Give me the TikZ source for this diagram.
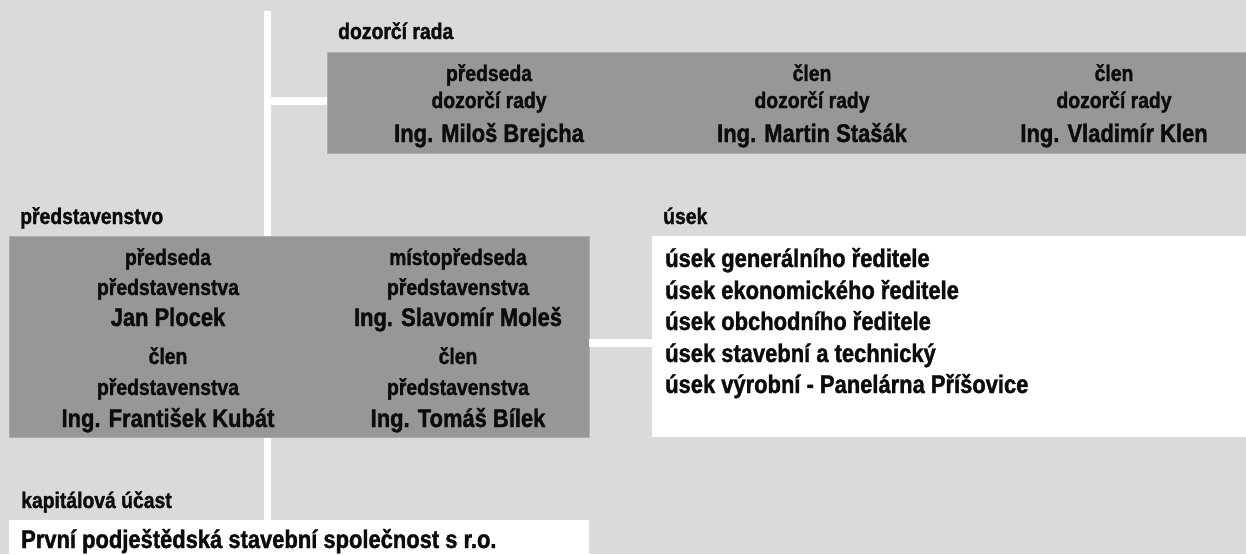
\documentclass[tikz,border=0pt]{standalone}
\usepackage{fontspec}
\setmainfont{Liberation Sans}[FakeStretch=0.86, BoldFeatures={FakeBold=1.4}]
\definecolor{bgc}{RGB}{218,218,218}
\definecolor{boxc}{RGB}{150,151,150}
\definecolor{boxedge}{RGB}{172,173,172}
\definecolor{txt}{RGB}{12,12,12}
\tikzset{
  graybox/.style={fill=boxc, draw=boxedge, line width=1pt, inner sep=0pt, outer sep=0pt, anchor=north west},
  whitebox/.style={fill=white, draw=none, inner sep=0pt, outer sep=0pt, anchor=north west},
  conn/.style={draw=white, line width=7.5pt},
  lbl/.style={anchor=base west, inner sep=0pt, text=txt, font=\fontsize{22.5}{26}\selectfont\bfseries},
  small/.style={anchor=base, inner sep=0pt, text=txt, font=\fontsize{22.5}{26}\selectfont\bfseries},
  big/.style={anchor=base, inner sep=0pt, text=txt, font=\fontsize{25.5}{30}\selectfont\bfseries},
  bigl/.style={anchor=base west, inner sep=0pt, text=txt, font=\fontsize{25.5}{30}\selectfont\bfseries},
}
\begin{document}
\begin{tikzpicture}[x=1pt, y=-1pt]
\fill[bgc] (0,0) rectangle (1246,554);
\useasboundingbox (0,0) rectangle (1246,554);
% connectors
\coordinate (top) at (267.5,11);
\coordinate (j1) at (267.5,101);
\coordinate (j2) at (620,343);
\node[whitebox, minimum width=580pt, minimum height=40pt] (kap) at (9,520) {};
\node[whitebox, minimum width=594pt, minimum height=201pt] (usek) at (652,236) {};
\draw[conn] (top) -- (top |- kap.north);
% boxes
\node[graybox, minimum width=925pt, minimum height=101pt] (dr) at (327,52) {};
\node[graybox, minimum width=580pt, minimum height=201pt] (psv) at (9,236) {};
\draw[conn] (j1) -- (j1 -| dr.west);
\draw[conn] (j2 -| psv.east) -- (j2 -| usek.west);
% labels
\node[lbl] (l1) at (338,39) {dozorčí rada};
\node[lbl] (l2) at (20,224) {představenstvo};
\node[lbl] (l3) at (663,224) {úsek};
\node[lbl] (l4) at (21,508) {kapitálová účast};
% dozorci rada
\node[small] (a1) at (489,81) {předseda};
\node[small] (a2) at (489,108) {dozorčí rady};
\node[big] (a3) at (489,142) {Ing. Miloš Brejcha};
\node[small] (b1) at (812,81) {člen};
\node[small] (b2) at (812,108) {dozorčí rady};
\node[big] (b3) at (812,142) {Ing. Martin Stašák};
\node[small] (c1) at (1114,81) {člen};
\node[small] (c2) at (1114,108) {dozorčí rady};
\node[big] (c3) at (1114,142) {Ing. Vladimír Klen};
% predstavenstvo
\node[small] (d1) at (168,265) {předseda};
\node[small] (d2) at (168,295) {představenstva};
\node[big] (d3) at (168,326) {Jan Plocek};
\node[small] (e1) at (458,265) {místopředseda};
\node[small] (e2) at (458,295) {představenstva};
\node[big] (e3) at (458,326) {Ing. Slavomír Moleš};
\node[small] (f1) at (168,364) {člen};
\node[small] (f2) at (168,395) {představenstva};
\node[big] (f3) at (168,427) {Ing. František Kubát};
\node[small] (g1) at (458,364) {člen};
\node[small] (g2) at (458,395) {představenstva};
\node[big] (g3) at (458,427) {Ing. Tomáš Bílek};
% usek
\node[bigl] (u1) at (665,267) {úsek generálního ředitele};
\node[bigl] (u2) at (665,299) {úsek ekonomického ředitele};
\node[bigl] (u3) at (665,330) {úsek obchodního ředitele};
\node[bigl] (u4) at (665,362) {úsek stavební a technický};
\node[bigl] (u5) at (665,393) {úsek výrobní - Panelárna Příšovice};
% kapitalova ucast
\node[bigl] (k1) at (21,548) {První podještědská stavební společnost s r.o.};
\end{tikzpicture}
\end{document}
